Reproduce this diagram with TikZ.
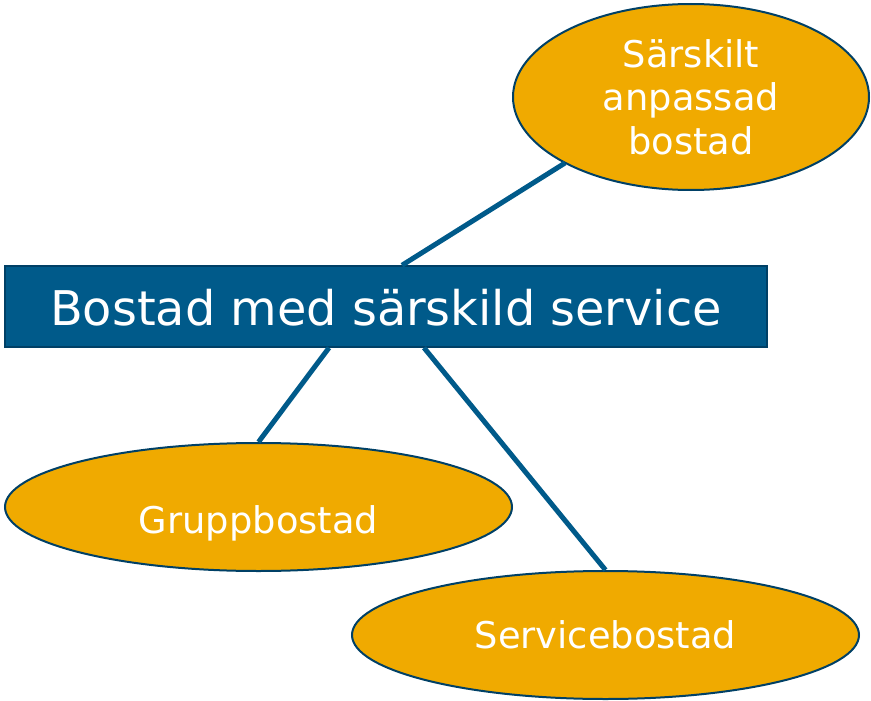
\documentclass[tikz,border=0pt]{standalone}
\usepackage{fontspec}
\setmainfont{DejaVu Sans}
\usetikzlibrary{shapes.geometric,calc}
\definecolor{bbox}{RGB}{0,90,138}
\definecolor{bline}{RGB}{0,90,138}
\definecolor{eborder}{RGB}{0,64,102}
\definecolor{eorange}{RGB}{240,170,0}
\begin{document}
\begin{tikzpicture}[x=1pt,y=-1pt,
  ell/.style={ellipse,draw=eborder,line width=2pt,fill=eorange,text=white,inner sep=0pt,font=\fontsize{36.8}{43.5}\selectfont,align=center},
  conn/.style={draw=bline,line width=5pt}]
\useasboundingbox (0,0) rectangle (871,701);
\node[draw=eborder,line width=1.5pt,fill=bbox,text=white,minimum width=762pt,minimum height=81pt,inner sep=0pt,text height=37pt,text depth=0pt,font=\fontsize{47.8}{50}\selectfont] (rect) at (386,306.5) {Bostad med särskild service};
\node[ell,minimum width=356pt,minimum height=186pt] (sab) at (691,97) {Särskilt\\anpassad\\bostad};
\node[ell,minimum width=507pt,minimum height=128pt,text height=52pt,text depth=0pt] (grp) at (258.5,507) {Gruppbostad};
\node[ell,minimum width=507pt,minimum height=128pt,text height=26pt,text depth=0pt] (srv) at (605.5,635) {Servicebostad};
\coordinate (t1) at ($(rect.north)+(16,0)$);
\coordinate (t2) at ($(rect.south)+(-57,0)$);
\coordinate (t3) at ($(rect.south)+(38,0)$);
\draw[conn] (t1) -- (565,163);
\draw[conn] (t2) -- (grp.north);
\draw[conn] (t3) -- (srv.north);
\end{tikzpicture}
\end{document}
